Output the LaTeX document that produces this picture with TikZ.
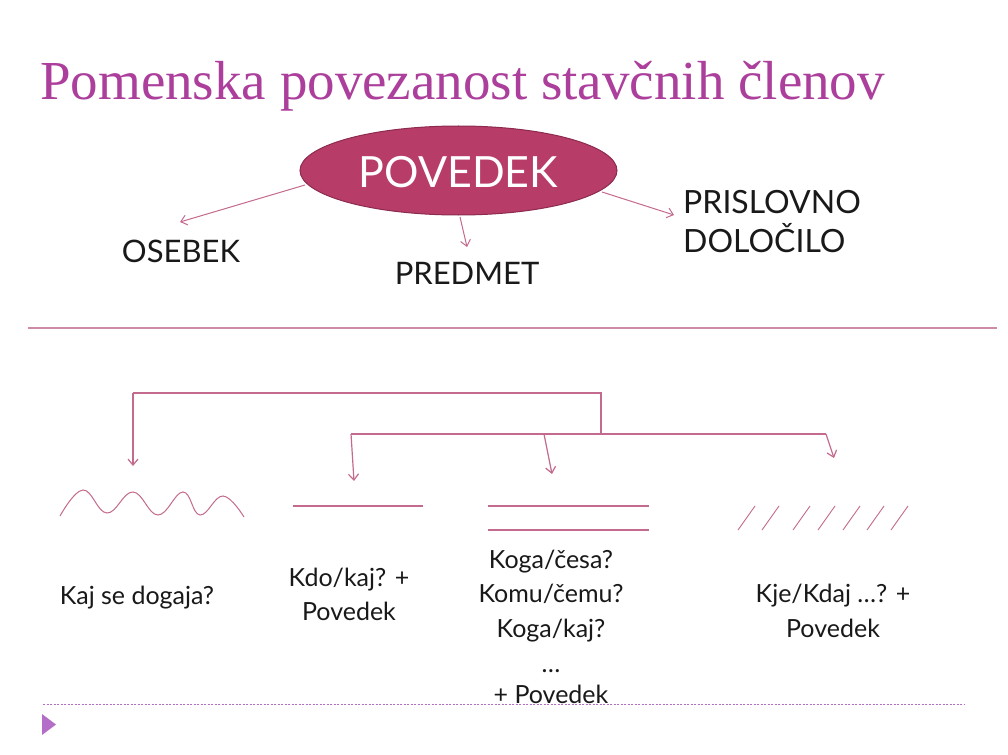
\documentclass[tikz,border=0pt]{standalone}
\usepackage{fontspec}
\setmainfont{Lato}
\newfontfamily\titlefont{Liberation Serif}
\usetikzlibrary{shapes.geometric,arrows.meta}
\definecolor{titlecol}{RGB}{172,62,156}
\definecolor{ellfill}{RGB}{184,60,104}
\definecolor{elldraw}{RGB}{140,43,79}
\definecolor{pinkline}{RGB}{196,106,142}
\definecolor{sepline}{RGB}{206,138,166}
\definecolor{violet}{RGB}{180,110,200}
\tikzset{
  conn/.style={draw=pinkline, line width=1pt, -{Straight Barb[length=6pt,width=10pt]}},
  plainline/.style={draw=pinkline, line width=1.2pt},
  toplabel/.style={font=\fontsize{31}{39}\selectfont, text=black!90, inner sep=0pt, align=center},
  lowlabel/.style={font=\fontsize{25}{30}\selectfont, text=black!90, inner sep=0pt, align=center, anchor=base},
}
\begin{document}
\begin{tikzpicture}[x=1pt,y=-1pt]
\useasboundingbox (0,0) rectangle (1008,754);
\fill[white] (0,0) rectangle (1008,754);

% title
\node[anchor=base west, inner sep=0pt, text=titlecol, font=\titlefont\fontsize{55}{60}\selectfont] (title) at (40,100) {Pomenska povezanost stavčnih členov};

% ellipse
\node[ellipse, fill=ellfill, draw=elldraw, line width=1pt, minimum width=317pt, minimum height=89pt, inner sep=0pt] (pov) at (458.5,170.5) {};
\node[anchor=base, inner sep=0pt, text=white, font=\fontsize{43}{48}\selectfont] (povt) at (458.5,187) {POVEDEK};

% top labels
\node[toplabel, anchor=base] (oseb) at (181,262) {OSEBEK};
\node[toplabel, anchor=base] (pred) at (467,284) {PREDMET};
\node[toplabel, anchor=base west, align=left, font=\fontsize{32}{39}\selectfont] (pris) at (683,252) {PRISLOVNO\\DOLOČILO};

\coordinate (s1) at (305,185);
\coordinate (e1) at (180,222);
\coordinate (s2) at (460,217);
\coordinate (e2) at (467,247);
\coordinate (s3) at (602,192);
\coordinate (e3) at (674,215);
\draw[conn] (s1) -- (e1);
\draw[conn] (s2) -- (e2);
\draw[conn] (s3) -- (e3);

% separator
\draw[draw=sepline, line width=2pt] (28,328) coordinate (sepL) -- (997,328) coordinate (sepR);

% connectors lower
\coordinate (tr) at (601,393);
\coordinate (tl) at (133,393);
\coordinate (a1) at (133,466);
\coordinate (mr) at (601,434);
\coordinate (ml) at (351,434);
\coordinate (a2) at (354,481);
\coordinate (m2) at (544,434);
\coordinate (a3) at (552,474);
\coordinate (m3) at (826,434);
\coordinate (a4) at (834,458);
\draw[plainline] (mr) -- (tr) -- (tl);
\draw[conn, line width=1.2pt] (tl) -- (a1);
\draw[plainline] (ml) -- (m3);
\draw[conn, line width=1.2pt] (ml) -- (a2);
\draw[conn, line width=1.2pt] (m2) -- (a3);
\draw[conn, line width=1.2pt] (m3) -- (a4);

% symbols
\draw[plainline, line width=1pt] plot[smooth, tension=0.7] coordinates {(60,516) (83,490) (107,513) (133,492) (158,515) (183,492) (200,515) (223,496) (244,517)};
\draw[plainline] (293,506) -- (423,506);
\draw[plainline] (488,506) -- (649,506);
\draw[plainline] (488,530) -- (649,530);
\foreach \x in {738,762,793,818,843,867,891} {
  \draw[draw=pinkline, line width=0.9pt] (\x,530) -- ++(17,-24);
}

% lower labels (anchor=base is the baseline of the last line)
\node[lowlabel] (q1) at (137,604) {Kaj se dogaja?};
\node[lowlabel, font=\fontsize{25}{34}\selectfont] (q2) at (349,620) {Kdo/kaj? +\\Povedek};
\node[lowlabel, font=\fontsize{25}{34.5}\selectfont] (q3) at (551,637) {Koga/česa?\\Komu/čemu?\\Koga/kaj?};
\node[lowlabel] (q3b) at (551,672) {\dots};
\node[lowlabel] (q3c) at (551,703) {+ Povedek};
\node[lowlabel, font=\fontsize{25}{34.5}\selectfont] (q4) at (833,637) {Kje/Kdaj \dots? +\\Povedek};

% bottom dotted line and triangle
\draw[draw=violet, line width=0.8pt, dash pattern=on 2pt off 1.5pt] (43,704) -- (965,704);
\fill[violet] (42,714) -- (56,724.5) -- (42,735) -- cycle;
\end{tikzpicture}
\end{document}
